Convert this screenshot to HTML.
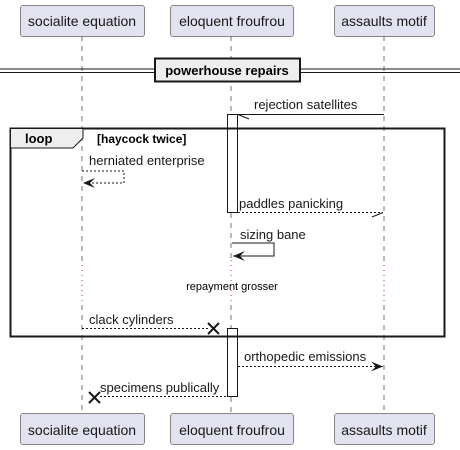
<!DOCTYPE html>
<html><head><meta charset="utf-8"><style>
html,body{margin:0;padding:0;background:#fff;}
svg{display:block;font-family:"Liberation Sans",sans-serif;}
</style></head><body>
<svg width="460" height="450" viewBox="0 0 460 450" xmlns="http://www.w3.org/2000/svg">
<defs>
<marker id="ar" viewBox="0 0 12 10" refX="12" refY="5" markerWidth="12" markerHeight="10" orient="auto" markerUnits="userSpaceOnUse">
<path d="M0,0 L12,5 L0,10 L5,5 Z" fill="#181818"/></marker>
</defs>
<g stroke="#181818" stroke-width="0.6" stroke-dasharray="5,5">
<line x1="82" y1="36" x2="82" y2="260"/><line x1="82" y1="305" x2="82" y2="413"/>
<line x1="231" y1="36" x2="231" y2="114"/><line x1="231" y1="213" x2="231" y2="260"/><line x1="231" y1="305" x2="231" y2="328"/><line x1="231" y1="397" x2="231" y2="413"/>
<line x1="384" y1="36" x2="384" y2="260"/><line x1="384" y1="305" x2="384" y2="413"/>
</g>
<g stroke="#a80036" stroke-width="0.8" stroke-dasharray="1,4">
<line x1="82" y1="260" x2="82" y2="305"/><line x1="231" y1="260" x2="231" y2="305"/><line x1="384" y1="260" x2="384" y2="305"/>
</g>
<g fill="#e2e2f0" stroke="#181818" stroke-width="0.5">
<rect x="20.5" y="5.5" width="124" height="31" rx="2.5"/>
<rect x="170.5" y="5.5" width="123" height="31" rx="2.5"/>
<rect x="334.5" y="5.5" width="100" height="31" rx="2.5"/>
<rect x="20.5" y="413.5" width="124" height="31" rx="2.5"/>
<rect x="170.5" y="413.5" width="123" height="31" rx="2.5"/>
<rect x="334.5" y="413.5" width="100" height="31" rx="2.5"/>
</g>
<g font-size="14" fill="#181818" text-anchor="middle">
<text x="82" y="26">socialite equation</text>
<text x="232" y="26">eloquent froufrou</text>
<text x="384" y="26">assaults motif</text>
<text x="82" y="435">socialite equation</text>
<text x="232" y="435">eloquent froufrou</text>
<text x="384" y="435">assaults motif</text>
</g>
<line x1="0" y1="69" x2="460" y2="69" stroke="#181818" stroke-width="1"/>
<line x1="0" y1="72.5" x2="460" y2="72.5" stroke="#181818" stroke-width="1"/>
<rect x="155" y="58.5" width="145" height="23" fill="#eeeeee" stroke="#181818" stroke-width="2"/>
<text x="227" y="75" font-size="13" font-weight="bold" text-anchor="middle" fill="#000">powerhouse repairs</text>
<rect x="227.5" y="114.5" width="10" height="98" fill="#fff" stroke="#181818" stroke-width="1"/>
<rect x="227.5" y="328.5" width="10" height="68" fill="#fff" stroke="#181818" stroke-width="1"/>
<line x1="238" y1="114.5" x2="384" y2="114.5" stroke="#181818" stroke-width="1"/>
<line x1="238" y1="114.5" x2="249" y2="119" stroke="#181818" stroke-width="1"/>
<text x="254" y="109" font-size="13" fill="#181818">rejection satellites</text>
<rect x="10.5" y="128.5" width="434" height="208" fill="none" stroke="#181818" stroke-width="2"/>
<path d="M10.5,128.5 L83,128.5 L83,138 L73,148 L10.5,148 Z" fill="#eeeeee" stroke="#181818" stroke-width="1"/>
<text x="25" y="143" font-size="13" font-weight="bold" fill="#000">loop</text>
<text x="97" y="143" font-size="12" font-weight="bold" fill="#000">[haycock twice]</text>
<text x="89" y="165" font-size="13" fill="#181818">herniated enterprise</text>
<polyline points="82,171 124,171 124,183 83,183" fill="none" stroke="#181818" stroke-width="1" stroke-dasharray="2,2" marker-end="url(#ar)"/>
<line x1="238" y1="212.5" x2="383" y2="212.5" stroke="#181818" stroke-width="1" stroke-dasharray="2,2"/>
<line x1="383" y1="212.5" x2="372" y2="217" stroke="#181818" stroke-width="1"/>
<text x="239" y="208" font-size="13" fill="#181818">paddles panicking</text>
<text x="240" y="239" font-size="13" fill="#181818">sizing bane</text>
<polyline points="232,243 274,243 274,256 233,256" fill="none" stroke="#181818" stroke-width="1" marker-end="url(#ar)"/>
<text x="232" y="290" font-size="11" text-anchor="middle" fill="#000">repayment grosser</text>
<line x1="82" y1="328.5" x2="208" y2="328.5" stroke="#181818" stroke-width="1" stroke-dasharray="2,2"/>
<path d="M208,323 L219,334 M219,323 L208,334" stroke="#181818" stroke-width="2"/>
<text x="89" y="324" font-size="13" fill="#181818">clack cylinders</text>
<line x1="238" y1="366.5" x2="383" y2="366.5" stroke="#181818" stroke-width="1" stroke-dasharray="2,2" marker-end="url(#ar)"/>
<text x="244" y="361" font-size="13" fill="#181818">orthopedic emissions</text>
<line x1="100" y1="396.5" x2="227" y2="396.5" stroke="#181818" stroke-width="1" stroke-dasharray="2,2"/>
<path d="M89,392 L100,403 M100,392 L89,403" stroke="#181818" stroke-width="2"/>
<text x="100" y="392" font-size="13" fill="#181818">specimens publically</text>
</svg>
</body></html>
